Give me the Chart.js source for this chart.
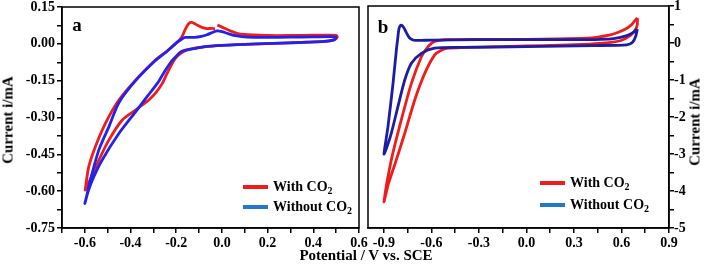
<!DOCTYPE html>
<html>
<head>
<meta charset="utf-8">
<script src="https://cdn.jsdelivr.net/npm/chart.js@4.4.1/dist/chart.umd.min.js"></script>
<style>
  body { margin: 0; background: #fff; }
  #wrap { position: relative; width: 712px; height: 268px; overflow: hidden;
          font-family: 'Liberation Serif', 'Times New Roman', serif; font-weight: bold; color: #000; }
  canvas { position: absolute; top: 0; }
  .t { position: absolute; white-space: nowrap; font-size: 15px; transform: translate(-50%, -50%); }
  .rot { transform: translate(-50%, -50%) rotate(-90deg); }
  .panel { position: absolute; font-size: 19px; transform: translate(-50%, -50%); }
  .leg { position: absolute; display: flex; align-items: center; transform: translateY(-50%); font-size: 14px; white-space: nowrap; }
  .leg i { display: inline-block; width: 25px; height: 4px; margin-right: 5px; }
  .leg sub { font-size: 10px; vertical-align: -3px; line-height: 0; }
</style>
</head>
<body>
<div id="wrap">
  <canvas id="chartA" width="372" height="268" style="left:0"></canvas>
  <canvas id="chartB" width="350" height="268" style="left:362px"></canvas>
  <div class="panel" style="left:77px;top:25px">a</div>
  <div class="panel" style="left:383px;top:27px">b</div>
  <div class="t rot" style="left:8px;top:120px">Current i/mA</div>
  <div class="t rot" style="left:695px;top:122px">Current i/mA</div>
  <div class="t" style="left:366px;top:255px">Potential / V vs. SCE</div>
</div>
<script>
// series names and colours
const seriesLabels = ['With CO2', 'Without CO2'];
const redLine = '#f01c1c';
const blueLineA = '#2222ee';
const blueLineB = '#1c1ca6';
const legendColors = ['#f01c1c', '#2278cc'];

// panel a: potential (V) and current (mA)
const aWithV = [-0.02, 0.0, 0.03, 0.066, 0.1, 0.14, 0.2, 0.3, 0.4, 0.47, 0.5, 0.505, 0.495, 0.47, 0.43, 0.35, 0.23, 0.1, 0.0, -0.06, -0.125, -0.16, -0.18, -0.2, -0.218, -0.24, -0.261, -0.29, -0.32, -0.35, -0.378, -0.437, -0.495, -0.539, -0.575, -0.598, -0.597, -0.583, -0.554, -0.51, -0.451, -0.378, -0.291, -0.24, -0.197, -0.175, -0.16, -0.145, -0.131, -0.115, -0.09, -0.065, -0.045, -0.03];
const aWithI = [0.077, 0.068, 0.055, 0.043, 0.038, 0.036, 0.034, 0.034, 0.035, 0.035, 0.034, 0.028, 0.018, 0.012, 0.009, 0.006, 0.002, -0.002, -0.006, -0.01, -0.018, -0.028, -0.039, -0.055, -0.08, -0.12, -0.161, -0.2, -0.229, -0.25, -0.27, -0.311, -0.392, -0.474, -0.55, -0.595, -0.585, -0.501, -0.419, -0.324, -0.229, -0.148, -0.066, -0.03, 0.005, 0.029, 0.06, 0.083, 0.087, 0.08, 0.068, 0.062, 0.063, 0.062];
const aWithoutV = [0.3, 0.4, 0.48, 0.5, 0.49, 0.45, 0.3, 0.15, 0.0, -0.08, -0.124, -0.16, -0.182, -0.2, -0.22, -0.247, -0.275, -0.305, -0.34, -0.378, -0.451, -0.525, -0.565, -0.585, -0.6, -0.592, -0.576, -0.539, -0.495, -0.451, -0.378, -0.291, -0.24, -0.197, -0.175, -0.16, -0.12, -0.09, -0.065, -0.04, -0.021, 0.0, 0.022, 0.06, 0.11, 0.2, 0.3];
const aWithoutI = [0.027, 0.028, 0.029, 0.026, 0.016, 0.01, 0.004, 0.0, -0.006, -0.012, -0.02, -0.026, -0.034, -0.05, -0.07, -0.107, -0.15, -0.188, -0.23, -0.277, -0.365, -0.474, -0.55, -0.6, -0.65, -0.62, -0.555, -0.433, -0.338, -0.24, -0.15, -0.068, -0.03, 0.006, 0.02, 0.026, 0.026, 0.03, 0.037, 0.047, 0.053, 0.05, 0.043, 0.033, 0.027, 0.026, 0.027];

// panel b
const bWithV = [0.70, 0.665, 0.634, 0.58, 0.529, 0.45, 0.38, 0.2, 0.0, -0.3, -0.5, -0.55, -0.58, -0.6, -0.63, -0.663, -0.726, -0.79, -0.853, -0.899, -0.87, -0.832, -0.768, -0.705, -0.642, -0.579, -0.54, -0.495, -0.4, -0.2, 0.0, 0.213, 0.4, 0.5, 0.592, 0.655, 0.687, 0.70, 0.70];
const bWithI = [0.68, 0.5, 0.40, 0.29, 0.22, 0.16, 0.13, 0.11, 0.1, 0.1, 0.09, 0.07, 0.04, -0.01, -0.15, -0.37, -1.09, -2.08, -3.16, -4.29, -3.79, -3.3, -2.44, -1.54, -0.82, -0.32, -0.2, -0.14, -0.12, -0.1, -0.08, -0.06, -0.03, 0.0, 0.06, 0.2, 0.35, 0.5, 0.68];
const bWithoutV = [0.70, 0.68, 0.634, 0.55, 0.466, 0.3, 0.0, -0.3, -0.6, -0.663, -0.7, -0.716, -0.74, -0.758, -0.775, -0.79, -0.8, -0.806, -0.813, -0.821, -0.842, -0.874, -0.899, -0.884, -0.853, -0.81, -0.768, -0.726, -0.663, -0.579, -0.4, 0.0, 0.424, 0.634, 0.67, 0.69, 0.70];
const bWithoutI = [0.38, 0.3, 0.2, 0.12, 0.1, 0.09, 0.09, 0.09, 0.08, 0.07, 0.07, 0.08, 0.15, 0.28, 0.42, 0.48, 0.44, 0.35, 0.1, -0.19, -1.09, -2.26, -3.0, -2.85, -2.44, -1.7, -1.0, -0.55, -0.28, -0.14, -0.12, -0.1, -0.07, -0.05, 0.02, 0.18, 0.38];

// ticks (blank label = minor tick)
const aXTicks = [-0.7, -0.6, -0.5, -0.4, -0.3, -0.2, -0.1, 0.0, 0.1, 0.2, 0.3, 0.4, 0.5, 0.6];
const aXLabels = ['', '-0.6', '', '-0.4', '', '-0.2', '', '0.0', '', '0.2', '', '0.4', '', '0.6'];
const aYTicks = [-0.75, -0.675, -0.6, -0.525, -0.45, -0.375, -0.3, -0.225, -0.15, -0.075, 0.0, 0.075, 0.15];
const aYLabels = ['-0.75', '', '-0.60', '', '-0.45', '', '-0.30', '', '-0.15', '', '0.00', '', '0.15'];
const bXTicks = [-0.9, -0.75, -0.6, -0.45, -0.3, -0.15, 0.0, 0.15, 0.3, 0.45, 0.6, 0.75, 0.9];
const bXLabels = ['-0.9', '', '-0.6', '', '-0.3', '', '0.0', '', '0.3', '', '0.6', '', '0.9'];
const bYTicks = [-5, -4.5, -4, -3.5, -3, -2.5, -2, -1.5, -1, -0.5, 0, 0.5, 1];
const bYLabels = ['-5', '', '-4', '', '-3', '', '-2', '', '-1', '', '0', '', '1'];

const font = { family: "'Liberation Serif', 'Times New Roman', serif", size: 14, weight: 'bold' };

const toPoints = (xs, ys) => xs.map((x, i) => ({ x: x, y: ys[i] }));

function curve(label, xs, ys, color) {
  return {
    label: label,
    data: toPoints(xs, ys),
    showLine: true,
    borderColor: color,
    backgroundColor: color,
    borderWidth: 2.8,
    pointRadius: 0,
    tension: 0.25
  };
}

function axis(min, max, ticks, labels, position, size, pad) {
  const horizontal = position === 'bottom';
  return {
    type: 'linear',
    position: position,
    min: min,
    max: max,
    afterBuildTicks: s => { s.ticks = ticks.map(v => ({ value: v })); },
    afterFit: s => {
      if (horizontal) s.height = size; else s.width = size;
      // let layout padding alone set the plot edges
      s.paddingTop = 0; s.paddingBottom = 0; s.paddingLeft = 0; s.paddingRight = 0;
    },
    ticks: { callback: (v, i) => labels[i], color: '#000', font: font, autoSkip: false, maxRotation: 0, padding: pad },
    grid: { drawOnChartArea: false, drawTicks: true, tickLength: 5, color: '#000', lineWidth: 1.5 },
    border: { display: true, color: '#000', width: 1.5 }
  };
}

// box round the plot area
const frame = {
  id: 'frame',
  afterDraw(chart) {
    const { ctx, chartArea: a } = chart;
    ctx.save();
    ctx.strokeStyle = '#000';
    ctx.lineWidth = 1.5;
    ctx.strokeRect(a.left, a.top, a.right - a.left, a.bottom - a.top);
    ctx.restore();
  }
};

function options(scales, padding) {
  return {
    responsive: false,
    animation: false,
    layout: { padding: padding },
    plugins: { legend: { display: false }, tooltip: { enabled: false } },
    scales: scales
  };
}

new Chart(document.getElementById('chartA'), {
  type: 'scatter',
  data: {
    datasets: [
      curve(seriesLabels[1], aWithoutV, aWithoutI, blueLineA),
      curve(seriesLabels[0], aWithV, aWithI, redLine)
    ]
  },
  options: options({
    x: axis(-0.7, 0.6, aXTicks, aXLabels, 'bottom', 40, 2),
    y: axis(-0.75, 0.15, aYTicks, aYLabels, 'left', 62, 2)
  }, { top: 7, right: 13, left: 0, bottom: 0 }),
  plugins: [frame]
});

new Chart(document.getElementById('chartB'), {
  type: 'scatter',
  data: {
    datasets: [
      curve(seriesLabels[1], bWithoutV, bWithoutI, blueLineB),
      curve(seriesLabels[0], bWithV, bWithI, redLine)
    ]
  },
  options: options({
    x: axis(-1.0, 0.9, bXTicks, bXLabels, 'bottom', 40, 2),
    y: axis(-5, 1, bYTicks, bYLabels, 'right', 43, 0)
  }, { top: 6, right: 0, left: 6, bottom: 0 }),
  plugins: [frame]
});

// legends inside each panel
function addLegend(x, ys) {
  const wrap = document.getElementById('wrap');
  seriesLabels.forEach((label, i) => {
    const row = document.createElement('div');
    row.className = 'leg';
    row.style.left = x + 'px';
    row.style.top = ys[i] + 'px';
    row.innerHTML = '<i style="background:' + legendColors[i] + '"></i><span>' +
      label.replace('CO2', 'CO<sub>2</sub>') + '</span>';
    wrap.appendChild(row);
  });
}
addLegend(243, [187, 207]);
addLegend(540, [183, 205]);
</script>
</body>
</html>
